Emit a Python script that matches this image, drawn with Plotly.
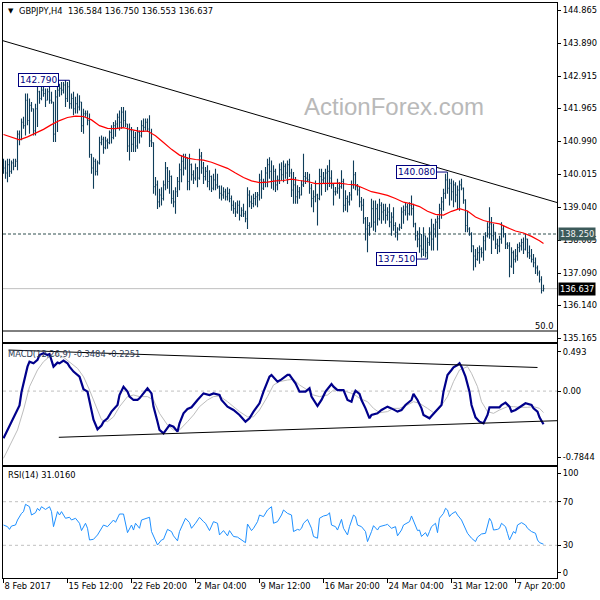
import plotly.graph_objects as go

# ---------------- price data (H4 bars, index 0 = 8 Feb 2017) ----------------
open_ = [
140.30,140.20,140.05,140.30,140.10,140.35,140.25,140.40,141.20,141.05,
141.55,141.45,142.20,141.60,142.05,141.95,141.30,141.95,142.45,142.25,
142.50,142.40,142.20,142.45,142.20,142.15,141.20,142.30,142.50,142.55,
142.50,142.65,142.25,142.60,142.10,142.25,141.95,142.10,142.00,142.15,
141.45,141.80,141.80,141.60,140.60,140.20,140.40,140.10,140.35,140.95,
141.05,140.80,141.00,140.95,141.25,141.10,141.45,141.50,141.70,141.55,
141.85,141.60,141.50,140.85,141.30,140.90,141.10,140.85,141.25,141.15,
141.45,141.40,141.55,141.35,141.00,140.95,139.65,139.70,139.20,139.40,
139.30,139.70,140.20,139.80,139.95,139.30,139.20,139.50,139.80,140.15,
140.40,140.20,140.50,139.80,140.30,140.00,139.90,140.20,139.90,140.55,
140.20,139.95,140.10,139.80,139.95,139.60,139.85,139.70,139.65,139.45,
139.40,139.50,139.35,139.45,139.30,139.10,139.00,138.90,139.10,138.80,
138.95,138.85,138.70,139.40,139.20,139.15,139.30,139.35,139.40,139.85,
139.60,139.80,140.05,140.30,140.10,139.80,140.10,139.70,139.85,140.15,
140.00,140.25,140.05,140.30,140.05,139.55,139.70,139.35,139.50,139.40,
139.70,139.95,139.90,139.85,139.60,139.30,139.35,139.40,139.30,139.95,
139.85,139.90,140.05,140.10,139.90,139.70,139.50,139.50,139.60,139.65,
139.80,139.10,139.30,139.20,139.40,139.70,140.00,139.65,139.55,139.20,
139.10,138.70,138.40,138.50,138.45,139.00,138.60,139.00,138.70,139.10,
138.90,138.95,138.80,138.90,138.60,138.75,138.50,138.30,138.40,138.45,
138.90,138.95,139.05,138.85,139.10,139.00,138.55,138.20,138.10,137.90,
137.80,138.20,137.70,138.00,138.30,138.10,138.40,138.60,138.70,139.00,
139.20,139.45,139.85,139.60,139.75,139.50,139.70,139.40,139.55,139.70,
139.60,139.25,138.50,138.40,138.25,137.90,137.60,137.50,137.70,137.80,
137.70,138.05,138.20,138.45,138.55,138.20,138.30,137.95,137.90,138.10,
138.40,138.25,137.95,137.90,137.30,137.70,137.50,137.60,137.85,137.90,
138.00,137.80,138.10,137.70,137.60,137.50,137.40,137.25,137.10,136.90,
136.584]

high = [
140.47,140.42,140.47,140.47,140.42,140.47,140.47,141.31,141.31,141.66,
141.71,142.40,142.40,142.25,142.15,141.96,142.10,142.60,142.48,142.60,
142.69,142.55,142.55,142.60,142.45,142.15,142.50,142.60,142.69,142.74,
142.74,142.79,142.74,142.79,142.40,142.45,142.30,142.40,142.35,142.15,
141.95,141.90,141.90,141.81,140.62,140.52,140.47,140.42,141.12,141.16,
141.12,141.12,141.07,141.31,141.46,141.56,141.61,141.81,141.90,142.00,
142.00,141.90,141.50,141.51,141.41,141.31,141.26,141.41,141.31,141.61,
141.66,141.66,141.66,141.76,141.36,140.95,139.93,139.83,139.59,139.63,
139.83,140.38,140.23,140.13,139.98,139.54,139.63,139.93,140.33,140.57,
140.62,140.62,140.52,140.62,140.33,140.13,140.33,140.23,140.77,140.67,
140.38,140.23,140.28,140.13,139.98,140.03,140.18,140.03,139.68,139.68,
139.63,139.59,139.63,139.59,139.39,139.24,139.19,139.24,139.24,139.04,
139.14,138.94,139.63,139.54,139.39,139.44,139.49,139.49,140.03,140.13,
139.88,140.23,140.47,140.52,140.42,140.28,140.18,139.98,140.33,140.37,
140.42,140.33,140.42,140.47,140.18,140.08,139.93,139.69,139.64,139.83,
140.62,140.08,140.08,140.03,139.73,139.54,139.83,139.44,140.18,140.18,
140.08,140.18,140.28,140.44,140.13,139.73,139.64,139.88,139.78,140.13,
139.88,139.54,139.39,139.49,139.83,140.42,140.08,139.73,139.64,139.34,
139.29,138.75,138.75,138.60,139.29,139.24,139.24,139.14,139.29,139.19,
139.14,139.14,139.04,139.14,138.89,139.04,138.60,138.45,138.55,139.04,
139.09,139.19,139.14,139.19,139.39,139.14,138.58,138.35,138.45,138.25,
138.45,138.20,138.15,138.45,138.70,138.55,138.70,138.80,139.14,139.34,
139.59,140.03,140.08,139.88,139.88,139.83,139.78,139.68,139.83,139.88,
139.62,139.28,138.94,138.45,138.30,137.92,137.81,137.86,137.91,137.86,
138.20,138.30,138.60,139.04,138.75,138.55,138.30,138.11,138.20,138.60,
138.50,138.28,138.01,138.01,137.86,137.76,137.81,137.96,138.01,138.11,
138.15,138.25,138.11,137.91,137.81,137.66,137.56,137.32,137.17,137.00,
136.750]

low = [
140.03,139.88,139.78,139.93,140.03,140.13,140.23,140.13,140.87,141.02,
141.36,141.16,141.46,141.21,141.86,141.16,141.16,141.41,142.10,142.20,
142.30,142.00,142.20,142.10,142.10,140.97,140.97,141.26,142.30,142.35,
142.40,142.00,142.15,141.95,141.95,141.76,141.81,141.81,141.90,141.26,
141.21,141.71,141.46,140.50,140.03,139.59,139.98,139.98,140.30,140.87,
140.62,140.75,140.77,140.90,140.92,141.05,141.12,141.36,141.31,141.36,
141.41,141.41,140.67,140.42,140.67,140.67,140.67,140.77,140.92,141.10,
141.26,141.31,141.26,140.82,140.82,139.44,139.39,138.99,139.04,139.09,
139.24,139.54,139.59,139.44,139.14,139.04,138.85,139.34,139.54,139.78,
139.98,140.15,139.54,139.54,139.83,139.73,139.83,139.63,139.85,140.03,
139.73,139.83,139.63,139.54,139.49,139.54,139.54,139.59,139.29,139.24,
139.29,139.24,139.24,139.19,138.94,138.85,138.75,138.85,138.65,138.75,
138.75,138.60,138.40,139.04,138.99,139.04,139.09,139.04,139.24,139.29,
139.55,139.63,139.63,139.88,139.59,139.54,139.49,139.54,139.73,139.83,
139.78,139.88,139.73,139.93,139.34,139.14,139.14,139.14,139.29,139.39,
139.64,139.73,139.78,139.44,139.04,138.89,139.19,138.50,139.25,139.39,
139.73,139.49,139.54,139.64,139.59,139.09,139.39,139.44,139.29,139.59,
138.89,138.94,138.89,139.09,139.24,139.59,139.54,139.39,139.04,138.94,
138.55,138.06,137.71,138.20,138.45,138.35,138.30,138.50,138.65,138.55,
138.65,138.55,138.65,138.45,138.20,138.35,138.15,138.06,138.35,138.40,
138.55,138.80,138.65,138.80,138.80,138.45,138.06,137.86,137.70,137.56,
137.60,137.56,137.51,137.90,137.76,137.76,138.15,137.76,138.40,138.70,
138.94,139.29,139.44,139.09,139.24,139.04,139.19,138.99,138.94,139.54,
139.14,138.30,138.30,138.20,137.71,137.17,137.27,137.46,137.37,137.56,
137.46,137.76,138.15,138.11,137.66,138.06,137.81,137.66,137.71,137.96,
138.15,137.81,137.81,136.97,137.25,137.07,137.41,137.46,137.71,137.76,
137.66,137.76,137.56,137.51,137.41,137.27,137.07,137.02,136.82,136.49,
136.553]

close = [
140.20,140.05,140.30,140.10,140.35,140.25,140.40,141.20,141.05,141.55,
141.45,142.20,141.60,142.05,141.95,141.30,141.95,142.45,142.25,142.50,
142.40,142.20,142.45,142.20,142.15,141.20,142.30,142.50,142.55,142.50,
142.65,142.25,142.60,142.10,142.25,141.95,142.10,142.00,142.15,141.45,
141.80,141.80,141.60,140.60,140.20,140.40,140.10,140.35,140.95,141.05,
140.80,141.00,140.95,141.25,141.10,141.45,141.50,141.70,141.55,141.85,
141.60,141.50,140.85,141.30,140.90,141.10,140.85,141.25,141.15,141.45,
141.40,141.55,141.35,141.00,140.95,139.65,139.70,139.20,139.40,139.30,
139.70,140.20,139.80,139.95,139.30,139.20,139.50,139.80,140.15,140.40,
140.20,140.50,139.80,140.30,140.00,139.90,140.20,139.90,140.55,140.20,
139.95,140.10,139.80,139.95,139.60,139.85,139.70,139.65,139.45,139.40,
139.50,139.35,139.45,139.30,139.10,139.00,138.90,139.10,138.80,138.95,
138.85,138.70,139.40,139.20,139.15,139.30,139.35,139.40,139.85,139.60,
139.80,140.05,140.30,140.10,139.80,140.10,139.70,139.85,140.15,140.00,
140.25,140.05,140.30,140.05,139.55,139.70,139.35,139.50,139.40,139.70,
139.95,139.90,139.85,139.60,139.30,139.35,139.40,139.30,139.95,139.85,
139.90,140.05,140.10,139.90,139.70,139.50,139.50,139.60,139.65,139.80,
139.10,139.30,139.20,139.40,139.70,140.00,139.65,139.55,139.20,139.10,
138.70,138.40,138.50,138.45,139.00,138.60,139.00,138.70,139.10,138.90,
138.95,138.80,138.90,138.60,138.75,138.50,138.30,138.40,138.45,138.90,
138.95,139.05,138.85,139.10,139.00,138.55,138.20,138.10,137.90,137.80,
138.20,137.70,138.00,138.30,138.10,138.40,138.60,138.70,139.00,139.20,
139.45,139.85,139.60,139.75,139.50,139.70,139.40,139.55,139.70,139.60,
139.25,138.50,138.40,138.25,137.90,137.60,137.50,137.70,137.80,137.70,
138.05,138.20,138.45,138.55,138.20,138.30,137.95,137.90,138.10,138.40,
138.25,137.95,137.90,137.30,137.70,137.50,137.60,137.85,137.90,138.00,
137.80,138.10,137.70,137.60,137.50,137.40,137.25,137.10,136.90,136.584,
136.637]

bar_index = list(range(len(close)))

# moving average (red), read every 4 bars
ma_bar = [0,4,8,12,16,20,24,28,32,36,40,44,48,52,56,60,64,68,72,76,80,84,88,92,96,
          100,104,108,112,116,120,124,128,132,136,140,144,148,152,156,160,164,168,172,
          176,180,184,188,192,196,200,204,208,212,216,220,224,228,232,236,240,244,248,
          252,256,260,264,268,270]
ma_val = [141.19,141.10,141.03,141.12,141.22,141.34,141.48,141.60,141.69,141.73,141.72,
          141.62,141.45,141.37,141.36,141.39,141.33,141.28,141.29,141.15,140.95,140.75,
          140.58,140.49,140.45,140.43,140.37,140.29,140.19,140.05,139.92,139.82,139.77,
          139.78,139.82,139.83,139.87,139.83,139.80,139.74,139.75,139.76,139.75,139.72,
          139.70,139.60,139.50,139.45,139.39,139.30,139.19,139.14,139.06,138.92,138.83,
          138.81,138.92,139.00,138.93,138.75,138.65,138.59,138.55,138.44,138.34,138.28,
          138.18,138.05,137.97]

# MACD(12,26,9)
macd_bar = [0,2,4,6,8,9,12,13,15,17,18,20,22,23,25,27,28,30,32,33,35,38,40,42,44,45,47,
            49,50,52,54,57,58,60,62,63,65,67,68,70,72,74,75,77,78,80,82,83,85,87,88,90,
            92,94,97,100,103,105,108,109,112,115,118,121,123,125,128,130,133,134,137,139,
            142,143,146,148,151,153,154,157,159,161,164,165,167,170,172,174,175,176,178,
            179,181,183,184,187,189,192,194,197,199,201,204,205,207,209,210,213,214,217,
            219,220,222,224,225,227,228,229,231,233,234,236,238,240,242,243,245,248,249,
            251,253,254,256,259,261,264,265,267,268,270]
macd_val = [-0.494,-0.407,-0.320,-0.233,-0.150,-0.010,0.256,0.308,0.291,0.326,0.378,0.396,
            0.378,0.388,0.256,0.298,0.291,0.319,0.291,0.256,0.204,0.151,0.020,-0.006,-0.200,
            -0.300,-0.400,-0.360,-0.320,-0.285,-0.215,-0.146,-0.041,0.046,-0.006,-0.058,
            -0.093,-0.093,-0.076,-0.024,0.029,-0.024,-0.163,-0.320,-0.407,-0.442,-0.390,
            -0.355,-0.373,-0.425,-0.337,-0.233,-0.188,-0.170,-0.093,-0.024,-0.041,-0.024,
            -0.041,-0.093,-0.163,-0.198,-0.250,-0.320,-0.285,-0.215,-0.128,-0.006,0.151,
            0.169,0.099,0.123,0.169,0.169,0.081,-0.006,-0.006,0.029,-0.058,-0.156,-0.093,
            -0.006,0.074,0.046,0.011,0.011,-0.093,-0.111,-0.041,0.004,-0.030,-0.093,-0.181,
            -0.285,-0.250,-0.233,-0.198,-0.163,-0.181,-0.215,-0.198,-0.146,-0.093,-0.030,
            -0.093,-0.181,-0.250,-0.285,-0.261,-0.198,-0.146,-0.006,0.169,0.221,0.249,0.273,
            0.291,0.256,0.151,-0.006,-0.146,-0.275,-0.320,-0.337,-0.250,-0.170,-0.170,
            -0.170,-0.146,-0.121,-0.163,-0.215,-0.198,-0.156,-0.128,-0.146,-0.181,-0.215,
            -0.275,-0.348]
signal_bar = [0,3,7,10,13,17,20,23,27,30,33,37,40,43,47,49,52,55,58,62,65,68,72,75,78,82,
              85,88,92,95,98,102,105,108,112,115,118,122,125,128,132,135,138,142,145,148,
              152,155,158,162,165,168,172,175,178,182,185,188,192,195,198,202,205,208,212,
              215,218,222,225,228,232,234,237,239,242,245,248,252,255,258,262,265,268,270]
signal_val = [-0.704,-0.582,-0.407,-0.198,0.046,0.221,0.308,0.361,0.378,0.354,0.308,0.238,
              0.151,0.011,-0.198,-0.300,-0.320,-0.270,-0.163,-0.058,-0.041,-0.058,-0.058,
              -0.093,-0.233,-0.355,-0.407,-0.407,-0.320,-0.250,-0.163,-0.093,-0.058,-0.051,
              -0.111,-0.163,-0.215,-0.270,-0.270,-0.198,-0.058,0.064,0.099,0.116,0.123,0.064,
              0.011,-0.041,-0.058,-0.041,0.011,0.018,-0.006,-0.030,-0.076,-0.111,-0.181,
              -0.226,-0.215,-0.181,-0.181,-0.146,-0.111,-0.128,-0.181,-0.226,-0.181,-0.058,
              0.099,0.221,0.256,0.186,0.046,-0.111,-0.215,-0.233,-0.198,-0.163,-0.163,-0.170,
              -0.170,-0.163,-0.181,-0.225]

# RSI(14)
rsi_bar = [0,2,3,4,6,7,9,10,11,13,14,16,17,18,19,21,23,24,25,27,28,29,31,33,34,36,38,39,
           41,42,43,45,47,49,50,52,54,55,56,58,60,62,64,65,66,68,69,71,73,74,76,77,79,80,
           82,84,85,87,88,90,91,93,94,96,98,100,101,103,105,107,108,110,112,113,115,117,
           119,121,122,124,125,127,128,130,132,134,135,137,139,140,142,144,145,147,148,
           149,150,152,154,155,157,158,160,162,163,164,166,167,169,170,172,173,175,176,
           177,179,181,182,184,185,187,188,191,192,194,196,197,199,200,202,203,204,206,
           207,208,209,211,212,213,214,216,217,218,220,221,222,223,224,226,227,229,231,
           232,234,236,237,239,241,243,244,245,247,248,249,251,252,253,255,256,257,259,
           261,262,264,266,267,268,270]
rsi_val = [48.6,47.1,44.6,47.7,48.6,53.2,59.3,60.9,67.6,65.4,57.8,59.9,63.9,61.8,65.4,62.9,
           65.4,60.9,47.1,60.9,57.8,60.9,54.8,55.7,53.2,54.8,50.2,43.5,50.2,45.6,34.9,35.5,
           39.5,45.6,48.6,47.1,51.7,53.2,51.1,58.7,58.7,41.6,48.6,44.0,50.2,45.6,53.2,54.8,
           55.7,42.6,34.9,30.3,34.9,35.5,44.6,42.6,38.7,34.1,42.6,51.7,54.8,50.8,45.6,50.2,
           55.7,51.7,50.2,43.5,51.7,50.2,39.5,43.5,38.7,43.5,38.1,37.5,34.9,32.4,49.5,43.5,
           45.6,51.7,57.8,56.3,62.4,65.4,50.2,51.7,57.8,62.4,59.3,57.8,42.6,44.6,44.0,
           45.6,50.2,53.8,45.6,38.1,36.5,54.8,56.9,57.8,59.9,48.6,47.1,44.0,53.8,45.6,
           39.5,47.1,57.8,56.3,48.6,47.1,42.6,33.4,42.6,48.0,44.0,47.1,48.6,49.2,45.6,
           47.1,38.7,44.0,48.6,50.8,51.7,56.9,47.1,43.5,44.0,38.1,41.6,38.1,42.6,47.1,
           50.2,41.6,54.8,59.3,63.9,62.4,56.3,58.7,60.9,57.8,53.2,44.0,41.0,36.5,33.4,
           37.5,40.4,41.0,54.8,51.7,44.0,44.6,45.6,50.2,47.1,41.0,34.9,42.6,41.0,48.6,
           50.8,48.6,45.6,42.6,41.0,34.9,32.5,31.0]

# analyst drawings and levels
trend_bar = [-0.25, 276.75]
trend_price = [143.958, 139.18]
macd_upper_bar = [2.5, 267.0]
macd_upper_val = [0.430, 0.247]
macd_lower_bar = [27.65, 276.75]
macd_lower_val = [-0.484, -0.310]
support_level = 138.250
last_price = 136.637
marked_points = [(33, 142.790, "142.790"), (222, 140.080, "140.080"), (212, 137.510, "137.510")]

price_ticks = [144.865, 143.890, 142.915, 141.965, 140.990, 140.015, 139.040, 138.065,
               137.090, 136.140, 135.165]
date_tick_bars = [0, 32, 64, 96, 128, 160, 192, 224, 256]
date_tick_text = ["8 Feb 2017", "15 Feb 12:00", "22 Feb 20:00", "2 Mar 04:00", "9 Mar 12:00",
                  "16 Mar 20:00", "24 Mar 04:00", "31 Mar 12:00", "7 Apr 20:00"]

BAR = "#0f3d5a"
FONT = "DejaVu Sans"
FS = 8.3

fig = go.Figure()
fig.add_trace(go.Ohlc(x=bar_index, open=open_, high=high, low=low, close=close,
                      increasing=dict(line=dict(color=BAR, width=1.1)),
                      decreasing=dict(line=dict(color=BAR, width=1.1)),
                      tickwidth=0.4, xaxis="x", yaxis="y", hoverinfo="skip"))
fig.add_trace(go.Scatter(x=ma_bar, y=ma_val, mode="lines", line=dict(color="#ff0000", width=1.2),
                         xaxis="x", yaxis="y", hoverinfo="skip"))
fig.add_trace(go.Scatter(x=trend_bar, y=trend_price, mode="lines", line=dict(color="black", width=1),
                         xaxis="x", yaxis="y", hoverinfo="skip"))

fig.add_trace(go.Scatter(x=signal_bar, y=signal_val, mode="lines", line=dict(color="#bdbdbd", width=1),
                         xaxis="x2", yaxis="y2", hoverinfo="skip"))
fig.add_trace(go.Scatter(x=macd_bar, y=macd_val, mode="lines", line=dict(color="#00008b", width=2.2),
                         xaxis="x2", yaxis="y2", hoverinfo="skip"))
fig.add_trace(go.Scatter(x=macd_upper_bar, y=macd_upper_val, mode="lines", line=dict(color="black", width=1),
                         xaxis="x2", yaxis="y2", hoverinfo="skip"))
fig.add_trace(go.Scatter(x=macd_lower_bar, y=macd_lower_val, mode="lines", line=dict(color="black", width=1),
                         xaxis="x2", yaxis="y2", hoverinfo="skip"))

fig.add_trace(go.Scatter(x=rsi_bar, y=rsi_val, mode="lines", line=dict(color="#1e90ff", width=1),
                         xaxis="x3", yaxis="y3", hoverinfo="skip"))

# panel geometry (paper fractions)
H_PLOT = 575.0
W_PLOT = 554.0
def py(px):
    return (578.0 - px) / H_PLOT
def pxf(px):
    return (px - 3.0) / W_PLOT

main_dom = [py(342), 1.0]
macd_dom = [py(466), py(344)]
rsi_dom = [0.0, py(466)]

axis_common = dict(showline=True, linecolor="black", linewidth=1, mirror=True,
                   showgrid=False, zeroline=False)

fig.update_layout(
    width=600, height=600, autosize=False,
    margin=dict(l=3, r=43, t=3, b=22),
    paper_bgcolor="white", plot_bgcolor="white",
    showlegend=False, hovermode=False,
    font=dict(family=FONT, size=FS, color="black"),
    xaxis=dict(domain=[0, 1], anchor="y", range=[-0.25, 276.75], showticklabels=False,
               ticks="", rangeslider=dict(visible=False), **axis_common),
    xaxis2=dict(domain=[0, 1], anchor="y2", matches="x", showticklabels=False, ticks="",
                **axis_common),
    xaxis3=dict(domain=[0, 1], anchor="y3", matches="x", tickmode="array",
                tickvals=date_tick_bars, ticktext=date_tick_text, ticks="outside", ticklen=4,
                tickcolor="black", ticklabelposition="outside right", tickangle=0,
                tickfont=dict(family=FONT, size=FS, color="black"), **axis_common),
    yaxis=dict(domain=main_dom, anchor="x", side="right", range=[135.061, 145.072],
               tickmode="array", tickvals=price_ticks,
               ticktext=[f"{v:.3f}" for v in price_ticks],
               ticks="outside", ticklen=3, tickcolor="black",
               tickfont=dict(family=FONT, size=FS, color="black"), **axis_common),
    yaxis2=dict(domain=macd_dom, anchor="x2", side="right", range=[-0.7844, 0.493],
                tickmode="array", tickvals=[0.412, 0.0, -0.693],
                ticktext=["0.493", "0.00", "-0.7844"], ticks="outside", ticklen=3,
                tickcolor="black", tickfont=dict(family=FONT, size=FS, color="black"),
                **axis_common),
    yaxis3=dict(domain=rsi_dom, anchor="x3", side="right", range=[0, 102.75],
                tickmode="array", tickvals=[96.1, 70, 30, 4.9],
                ticktext=["100", "70", "30", "0"], ticks="outside", ticklen=3,
                tickcolor="black", tickfont=dict(family=FONT, size=FS, color="black"),
                **axis_common),
)

shapes = [
    dict(type="line", xref="paper", yref="y", x0=0, x1=1, y0=support_level, y1=support_level,
         line=dict(color="#2f4f4f", width=1, dash="3px,2px"), layer="below"),
    dict(type="line", xref="paper", yref="y", x0=0, x1=1, y0=last_price, y1=last_price,
         line=dict(color="#c0c0c0", width=1), layer="below"),
    dict(type="line", xref="paper", yref="y2", x0=0, x1=1, y0=0, y1=0,
         line=dict(color="#c0c0c0", width=1, dash="3px,3px"), layer="below"),
    dict(type="line", xref="paper", yref="y3", x0=0, x1=1, y0=70, y1=70,
         line=dict(color="#c0c0c0", width=1, dash="3px,3px"), layer="below"),
    dict(type="line", xref="paper", yref="y3", x0=0, x1=1, y0=30, y1=30,
         line=dict(color="#c0c0c0", width=1, dash="3px,3px"), layer="below"),
    dict(type="line", xref="paper", yref="paper", x0=0, x1=1, y0=py(331), y1=py(331),
         line=dict(color="black", width=1)),
]
fig.update_layout(shapes=shapes)

ann = [
    dict(text="ActionForex.com", xref="paper", yref="paper", x=pxf(393.5), y=py(107),
         xanchor="center", yanchor="middle", showarrow=False,
         font=dict(family="Liberation Sans", size=24, color="#b9b9b9")),
    dict(text="▼", xref="paper", yref="paper", x=pxf(6), y=py(11), xanchor="left",
         yanchor="middle", showarrow=False, font=dict(family=FONT, size=7, color="black")),
    dict(text="GBPJPY,H4  136.584 136.750 136.553 136.637", xref="paper", yref="paper",
         x=pxf(17), y=py(11), xanchor="left", yanchor="middle", showarrow=False,
         font=dict(family=FONT, size=FS, color="black")),
    dict(text="MACD(12,26,9) -0.3484 -0.2251", xref="paper", yref="paper",
         x=pxf(6), y=py(354), xanchor="left", yanchor="middle", showarrow=False,
         font=dict(family=FONT, size=FS, color="#2b3a55")),
    dict(text="RSI(14) 31.0160", xref="paper", yref="paper",
         x=pxf(6), y=py(475), xanchor="left", yanchor="middle", showarrow=False,
         font=dict(family=FONT, size=FS, color="black")),
    dict(text="50.0", xref="paper", yref="paper", x=1, y=py(325.5), xanchor="right",
         yanchor="middle", xshift=-2, showarrow=False,
         font=dict(family=FONT, size=FS, color="black")),
    dict(text=f"{support_level:.3f}", xref="paper", yref="y", x=1, y=support_level,
         xanchor="left", yanchor="middle", xshift=1, showarrow=False, bgcolor="#3c5a5a",
         borderpad=1, font=dict(family=FONT, size=FS, color="#f0f0f0")),
    dict(text=f"{last_price:.3f}", xref="paper", yref="y", x=1, y=last_price,
         xanchor="left", yanchor="middle", xshift=1, showarrow=False, bgcolor="black",
         borderpad=1, font=dict(family=FONT, size=FS, color="white")),
]
for bx, price, label in marked_points:
    ann.append(dict(text=label, xref="x", yref="y", x=bx, y=price, showarrow=True,
                    arrowhead=0, arrowwidth=1, arrowcolor="#000080", ax=-31, ay=0,
                    bgcolor="white", bordercolor="#000080", borderwidth=1, borderpad=1,
                    font=dict(family=FONT, size=9, color="#000080")))
fig.update_layout(annotations=ann)

fig.write_html("out.html",
               config={"displayModeBar": False, "staticPlot": True},
               post_script="document.body.style.margin='0';document.body.style.overflow='hidden';")
